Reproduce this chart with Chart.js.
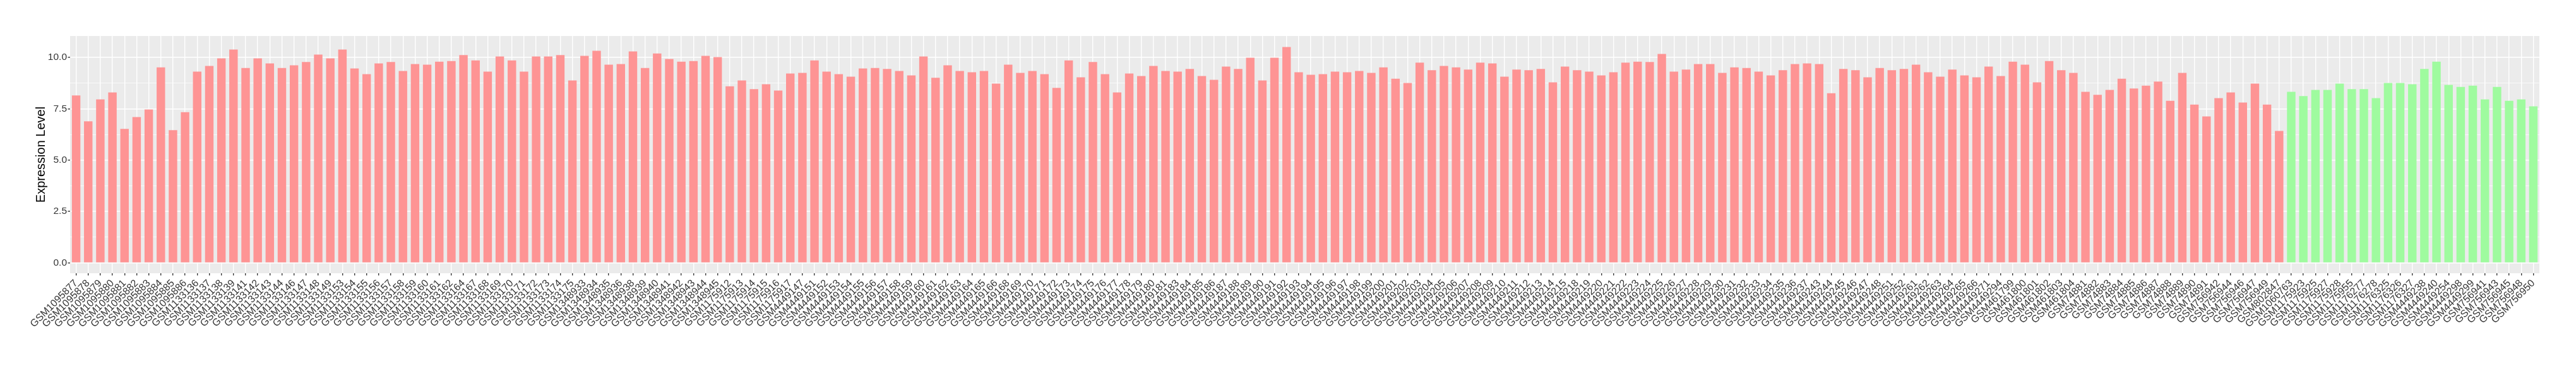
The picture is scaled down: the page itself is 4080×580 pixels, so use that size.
<!DOCTYPE html>
<html lang="en">
<head>
    <meta charset="UTF-8">
    <title>Expression Level by Sample</title>
    <script src="https://cdn.jsdelivr.net/npm/chart.js"></script>
    <style>
        html, body {
            margin: 0;
            padding: 0;
            background: #ffffff;
        }
        canvas {
            display: block;
        }
    </style>
</head>
<body>
    <canvas id="exprChart" width="4080" height="580"></canvas>

    <script>
        // tumour samples (pink bars)
        const tumorSamples = [
            'GSM1095877', 'GSM1095878', 'GSM1095879', 'GSM1095880', 'GSM1095881', 'GSM1095882', 'GSM1095883', 'GSM1095884',
            'GSM1095885', 'GSM1095886', 'GSM1133136', 'GSM1133137', 'GSM1133138', 'GSM1133139', 'GSM1133141', 'GSM1133142',
            'GSM1133143', 'GSM1133144', 'GSM1133146', 'GSM1133147', 'GSM1133148', 'GSM1133149', 'GSM1133153', 'GSM1133154',
            'GSM1133155', 'GSM1133156', 'GSM1133157', 'GSM1133158', 'GSM1133159', 'GSM1133160', 'GSM1133161', 'GSM1133162',
            'GSM1133164', 'GSM1133167', 'GSM1133168', 'GSM1133169', 'GSM1133170', 'GSM1133171', 'GSM1133172', 'GSM1133173',
            'GSM1133174', 'GSM1133175', 'GSM1348933', 'GSM1348934', 'GSM1348935', 'GSM1348936', 'GSM1348938', 'GSM1348939',
            'GSM1348940', 'GSM1348941', 'GSM1348942', 'GSM1348943', 'GSM1348944', 'GSM1348945', 'GSM1175912', 'GSM1175913',
            'GSM1175914', 'GSM1175915', 'GSM1175916', 'GSM1175917', 'GSM4449147', 'GSM4449151', 'GSM4449152', 'GSM4449153',
            'GSM4449154', 'GSM4449155', 'GSM4449156', 'GSM4449157', 'GSM4449158', 'GSM4449159', 'GSM4449160', 'GSM4449161',
            'GSM4449162', 'GSM4449163', 'GSM4449164', 'GSM4449165', 'GSM4449166', 'GSM4449168', 'GSM4449169', 'GSM4449170',
            'GSM4449171', 'GSM4449172', 'GSM4449173', 'GSM4449174', 'GSM4449175', 'GSM4449176', 'GSM4449177', 'GSM4449178',
            'GSM4449179', 'GSM4449180', 'GSM4449181', 'GSM4449183', 'GSM4449184', 'GSM4449185', 'GSM4449186', 'GSM4449187',
            'GSM4449188', 'GSM4449189', 'GSM4449190', 'GSM4449191', 'GSM4449192', 'GSM4449193', 'GSM4449194', 'GSM4449195',
            'GSM4449196', 'GSM4449197', 'GSM4449198', 'GSM4449199', 'GSM4449200', 'GSM4449201', 'GSM4449202', 'GSM4449203',
            'GSM4449204', 'GSM4449205', 'GSM4449206', 'GSM4449207', 'GSM4449208', 'GSM4449209', 'GSM4449210', 'GSM4449211',
            'GSM4449212', 'GSM4449213', 'GSM4449214', 'GSM4449215', 'GSM4449218', 'GSM4449219', 'GSM4449220', 'GSM4449221',
            'GSM4449222', 'GSM4449223', 'GSM4449224', 'GSM4449225', 'GSM4449226', 'GSM4449227', 'GSM4449228', 'GSM4449229',
            'GSM4449230', 'GSM4449231', 'GSM4449232', 'GSM4449233', 'GSM4449234', 'GSM4449235', 'GSM4449236', 'GSM4449237',
            'GSM4449243', 'GSM4449244', 'GSM4449245', 'GSM4449246', 'GSM4449247', 'GSM4449248', 'GSM4449251', 'GSM4449252',
            'GSM4449261', 'GSM4449262', 'GSM4449263', 'GSM4449264', 'GSM4449265', 'GSM4449266', 'GSM4449271', 'GSM4449294',
            'GSM461799', 'GSM461800', 'GSM461801', 'GSM461802', 'GSM461803', 'GSM461804', 'GSM74881', 'GSM74882',
            'GSM74883', 'GSM74884', 'GSM74885', 'GSM74886', 'GSM74887', 'GSM74888', 'GSM74889', 'GSM74890',
            'GSM74891', 'GSM756942', 'GSM756944', 'GSM756946', 'GSM756947', 'GSM756949', 'GSM802847'
        ];
        const tumorValues = [
            8.15, 6.89, 7.96, 8.30, 6.52, 7.10, 7.47, 9.52,
            6.46, 7.34, 9.31, 9.59, 9.96, 10.39, 9.49, 9.96,
            9.71, 9.49, 9.62, 9.78, 10.14, 9.96, 10.39, 9.47,
            9.19, 9.71, 9.78, 9.34, 9.68, 9.65, 9.80, 9.83,
            10.12, 9.86, 9.31, 10.05, 9.86, 9.31, 10.05, 10.05,
            10.12, 8.88, 10.08, 10.33, 9.65, 9.68, 10.30, 9.49,
            10.20, 9.93, 9.80, 9.83, 10.08, 10.02, 8.60, 8.88,
            8.46, 8.70, 8.39, 9.22, 9.25, 9.86, 9.31, 9.19,
            9.07, 9.47, 9.49, 9.44, 9.34, 9.13, 10.05, 9.01,
            9.62, 9.34, 9.28, 9.34, 8.73, 9.65, 9.25, 9.34,
            9.19, 8.52, 9.86, 9.04, 9.78, 9.19, 8.30, 9.22,
            9.10, 9.59, 9.34, 9.31, 9.44, 9.10, 8.91, 9.56,
            9.44, 9.99, 8.88, 9.99, 10.51, 9.28, 9.16, 9.19,
            9.31, 9.28, 9.34, 9.25, 9.52, 8.97, 8.76, 9.75,
            9.38, 9.59, 9.52, 9.41, 9.75, 9.71, 9.07, 9.41,
            9.38, 9.44, 8.79, 9.56, 9.38, 9.31, 9.13, 9.28,
            9.75, 9.80, 9.78, 10.17, 9.31, 9.41, 9.68, 9.68,
            9.25, 9.52, 9.49, 9.31, 9.13, 9.38, 9.68, 9.71,
            9.68, 8.26, 9.44, 9.38, 9.04, 9.49, 9.38, 9.44,
            9.65, 9.28, 9.07, 9.41, 9.13, 9.04, 9.56, 9.10,
            9.80, 9.65, 8.79, 9.83, 9.38, 9.25, 8.33, 8.18,
            8.42, 8.97, 8.49, 8.63, 8.83, 7.89, 9.25, 7.71,
            7.13, 8.02, 8.30, 7.81, 8.73, 7.71, 6.42
        ];

        // normal samples (green bars)
        const normalSamples = [
            'GSM1060763', 'GSM1175923', 'GSM1175925', 'GSM1175927', 'GSM1175928', 'GSM1175955', 'GSM1176277',
            'GSM1176278', 'GSM1176325', 'GSM1176326', 'GSM1176327', 'GSM4449238', 'GSM4449240', 'GSM4449254',
            'GSM4449298', 'GSM4449299', 'GSM756941', 'GSM756943', 'GSM756945', 'GSM756948', 'GSM756950'
        ];
        const normalValues = [
            8.33, 8.12, 8.42, 8.42, 8.73, 8.46, 8.46,
            8.02, 8.76, 8.76, 8.70, 9.44, 9.80, 8.67,
            8.57, 8.63, 7.96, 8.57, 7.89, 7.96, 7.62
        ];

        const yMajorTicks = [0, 2.5, 5, 7.5, 10];
        const yMinorTicks = [1.25, 3.75, 6.25, 8.75];

        const tumorColor = '#FE9494';
        const normalColor = '#9FFB9F';

        const labels = tumorSamples.concat(normalSamples);
        const values = tumorValues.concat(normalValues);
        const barColors = tumorSamples.map(() => tumorColor).concat(normalSamples.map(() => normalColor));

        const isMajor = v => yMajorTicks.includes(v);

        // grey ggplot-style panel
        const panelBackground = {
            id: 'panelBackground',
            beforeDraw(chart) {
                const { ctx, chartArea } = chart;
                ctx.save();
                ctx.fillStyle = '#EBEBEB';
                ctx.fillRect(chartArea.left, chartArea.top,
                    chartArea.right - chartArea.left, chartArea.bottom - chartArea.top);
                ctx.restore();
            }
        };

        Chart.defaults.font.family = "'Liberation Sans', Arial, sans-serif";

        const ctx = document.getElementById('exprChart').getContext('2d');
        new Chart(ctx, {
            type: 'bar',
            data: {
                labels: labels,
                datasets: [{
                    data: values,
                    backgroundColor: barColors,
                    borderWidth: 0,
                    barPercentage: 0.7,
                    categoryPercentage: 1.0
                }]
            },
            options: {
                responsive: false,
                devicePixelRatio: 1,
                animation: false,
                layout: {
                    padding: { top: 57, right: 58, bottom: 0, left: 0 }
                },
                plugins: {
                    legend: { display: false },
                    tooltip: { enabled: false }
                },
                scales: {
                    x: {
                        afterFit: scale => { scale.height = 147; },
                        border: { display: false },
                        grid: {
                            offset: false,
                            color: '#FFFFFF',
                            lineWidth: 1.4,
                            tickColor: '#333333',
                            tickLength: 3.5
                        },
                        ticks: {
                            autoSkip: false,
                            minRotation: 45,
                            maxRotation: 45,
                            color: '#333333',
                            padding: 3,
                            font: { size: 16 }
                        }
                    },
                    y: {
                        min: -0.51,
                        max: 11.05,
                        afterBuildTicks: scale => {
                            scale.ticks = yMajorTicks.concat(yMinorTicks)
                                .sort((a, b) => a - b)
                                .map(v => ({ value: v }));
                        },
                        afterFit: scale => { scale.width = 111; },
                        border: { display: false },
                        grid: {
                            color: '#FFFFFF',
                            lineWidth: c => (c.tick && isMajor(c.tick.value)) ? 1.4 : 0.7,
                            tickColor: c => (c.tick && isMajor(c.tick.value)) ? '#333333' : 'rgba(0,0,0,0)',
                            tickLength: 3.5
                        },
                        ticks: {
                            color: '#333333',
                            padding: 1.5,
                            font: { size: 15.5 },
                            callback: value => isMajor(value) ? value.toFixed(1) : ''
                        },
                        title: {
                            display: true,
                            text: 'Expression Level',
                            color: '#000000',
                            font: { size: 20 },
                            padding: { top: 53, bottom: 0 }
                        }
                    }
                }
            },
            plugins: [panelBackground]
        });
    </script>
</body>
</html>
